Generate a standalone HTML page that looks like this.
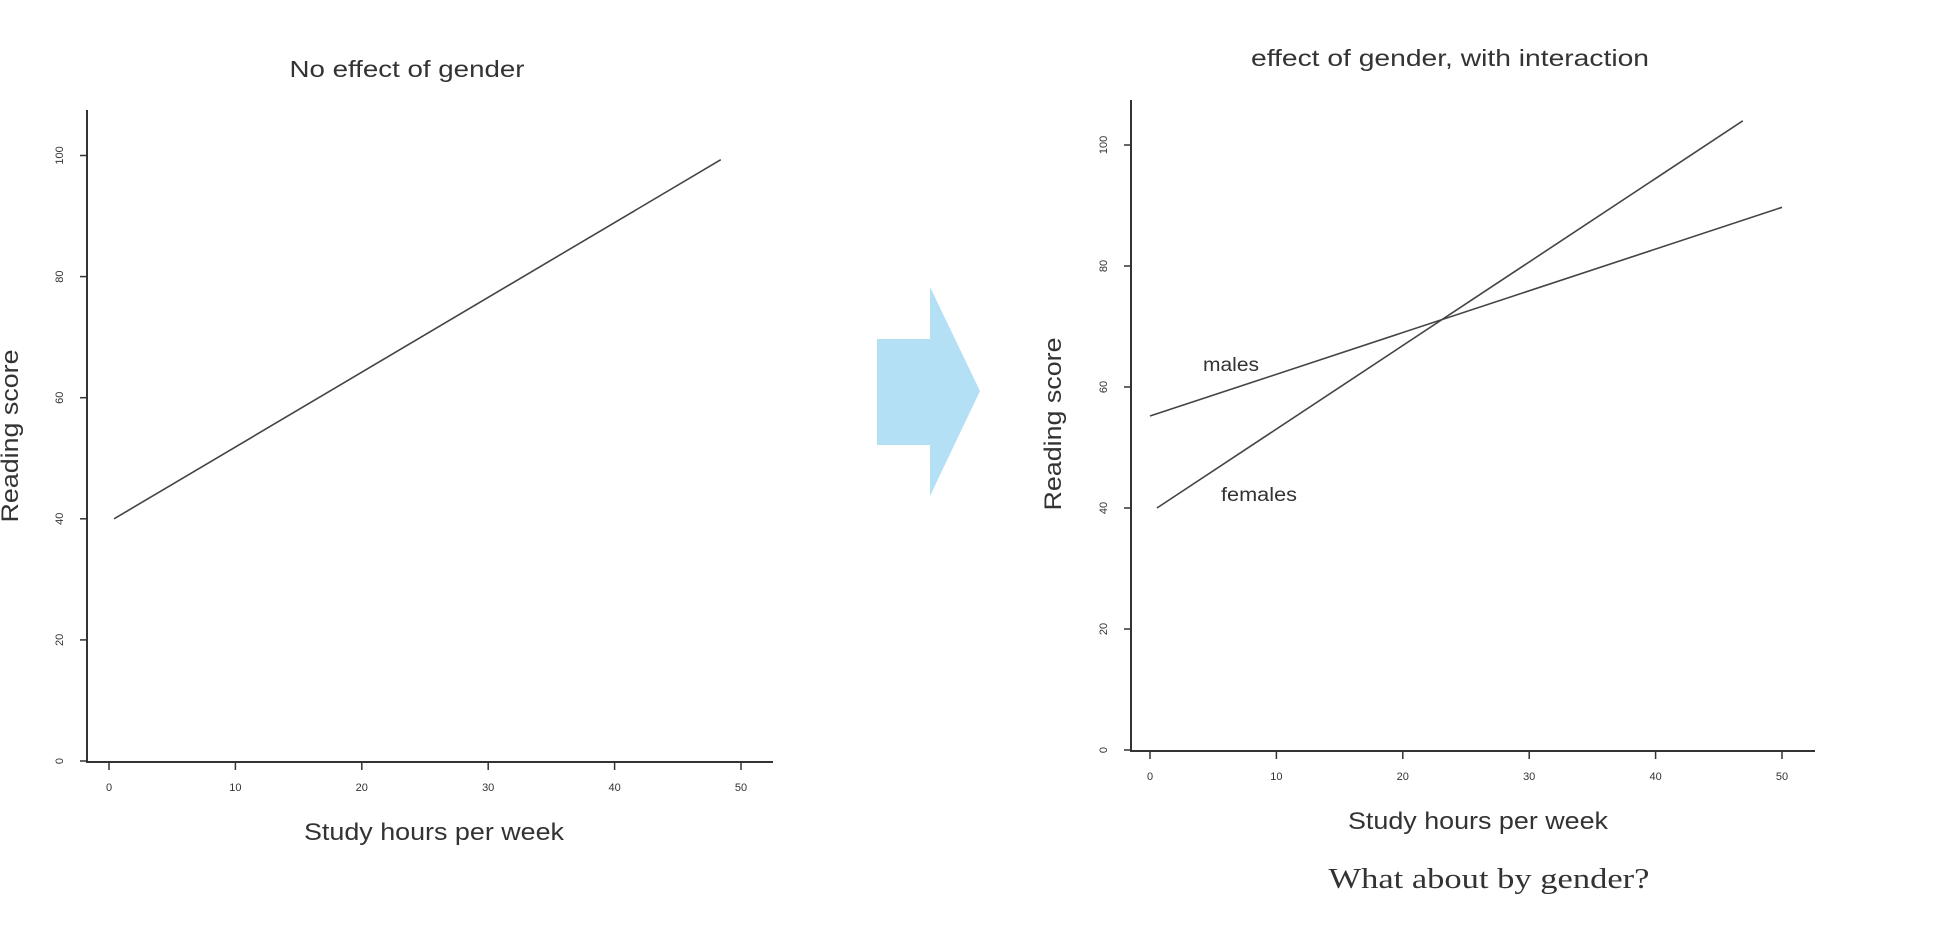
<!DOCTYPE html>
<html><head><meta charset="utf-8"><style>
html,body{margin:0;padding:0;background:#fff;}
svg{display:block;}
text{font-family:"Liberation Sans",sans-serif;fill:#333;}
</style></head><body>
<svg id="c" width="1934" height="936" xmlns="http://www.w3.org/2000/svg">
<g>
<text x="407" y="77" text-anchor="middle" font-size="23" textLength="235" lengthAdjust="spacingAndGlyphs">No effect of gender</text>
<text x="434" y="840" text-anchor="middle" font-size="24" textLength="260" lengthAdjust="spacingAndGlyphs">Study hours per week</text>
<text transform="translate(18,436) rotate(-90)" text-anchor="middle" font-size="24" textLength="173" lengthAdjust="spacingAndGlyphs">Reading score</text>
<g id="left-plot"></g>
</g>
<polygon points="877,339 930,339 930,287 980,391 930,496 930,445 877,445" fill="#b3e0f5"/>
<g>
<text x="1450" y="66" text-anchor="middle" font-size="23" textLength="398" lengthAdjust="spacingAndGlyphs">effect of gender, with interaction</text>
<text x="1478" y="829" text-anchor="middle" font-size="24" textLength="260" lengthAdjust="spacingAndGlyphs">Study hours per week</text>
<text transform="translate(1061,424) rotate(-90)" text-anchor="middle" font-size="24" textLength="173" lengthAdjust="spacingAndGlyphs">Reading score</text>
<text x="1231" y="371" text-anchor="middle" font-size="19" textLength="56" lengthAdjust="spacingAndGlyphs">males</text>
<text x="1259" y="501" text-anchor="middle" font-size="19" textLength="76" lengthAdjust="spacingAndGlyphs">females</text>
<text x="1489" y="888" text-anchor="middle" font-size="28" style="font-family:'Liberation Serif',serif" textLength="321" lengthAdjust="spacingAndGlyphs">What about by gender?</text>
<g id="right-plot"></g>
</g>
</svg>
<script>
const xTicks = [0, 10, 20, 30, 40, 50];
const yTicks = [0, 20, 40, 60, 80, 100];
const leftX = [0.4, 48.4];
const leftY = [40, 99.3];
const femalesX = [0.55, 46.9];
const femalesY = [40, 104];
const malesX = [0, 50];
const malesY = [55.2, 89.7];

const NS = "http://www.w3.org/2000/svg";
function mk(parent, tag, attrs){const e=document.createElementNS(NS,tag);for(const k in attrs)e.setAttribute(k,attrs[k]);parent.appendChild(e);return e;}

function drawPanel(g, cfg, series){
  const sx = v => cfg.x0 + v*cfg.xs;
  const sy = v => cfg.y0 - v*cfg.ys;
  const ax = mk(g,'path',{d:`M${cfg.axX},${cfg.top} V${cfg.y0+1} H${cfg.right}`,fill:'none',stroke:'#333','stroke-width':2});
  
  
  xTicks.forEach(t=>{
    const tk=mk(g,'line',{x1:sx(t),x2:sx(t),y1:cfg.y0+1,y2:cfg.y0+9,stroke:'#333','stroke-width':1.5});
    
    
    const lb=mk(g,'text',{x:sx(t),y:cfg.y0+30,'text-anchor':'middle','font-size':11});
    
    
    lb.textContent=t;
  });
  yTicks.forEach(t=>{
    const tk=mk(g,'line',{x1:cfg.axX-7,x2:cfg.axX,y1:sy(t),y2:sy(t),stroke:'#333','stroke-width':1.5});
    
    
    const lb=mk(g,'text',{transform:`translate(${cfg.axX-24},${sy(t)}) rotate(-90)`,'text-anchor':'middle','font-size':11});
    
    
    lb.textContent=t;
  });
  series.forEach(s=>{
    const ln=mk(g,'line',{x1:sx(s.x[0]),y1:sy(s.y[0]),x2:sx(s.x[1]),y2:sy(s.y[1]),stroke:'#444','stroke-width':1.6});
    
    
  });
}
drawPanel(document.getElementById('left-plot'),
  {x0:109,xs:12.64,y0:761,ys:6.055,axX:87,top:110,right:773},
  [{name:'regression-line',x:leftX,y:leftY}]);
drawPanel(document.getElementById('right-plot'),
  {x0:1150,xs:12.64,y0:750,ys:6.05,axX:1131,top:100,right:1815},
  [{name:'females-line',x:femalesX,y:femalesY},{name:'males-line',x:malesX,y:malesY}]);
</script>
</body></html>
